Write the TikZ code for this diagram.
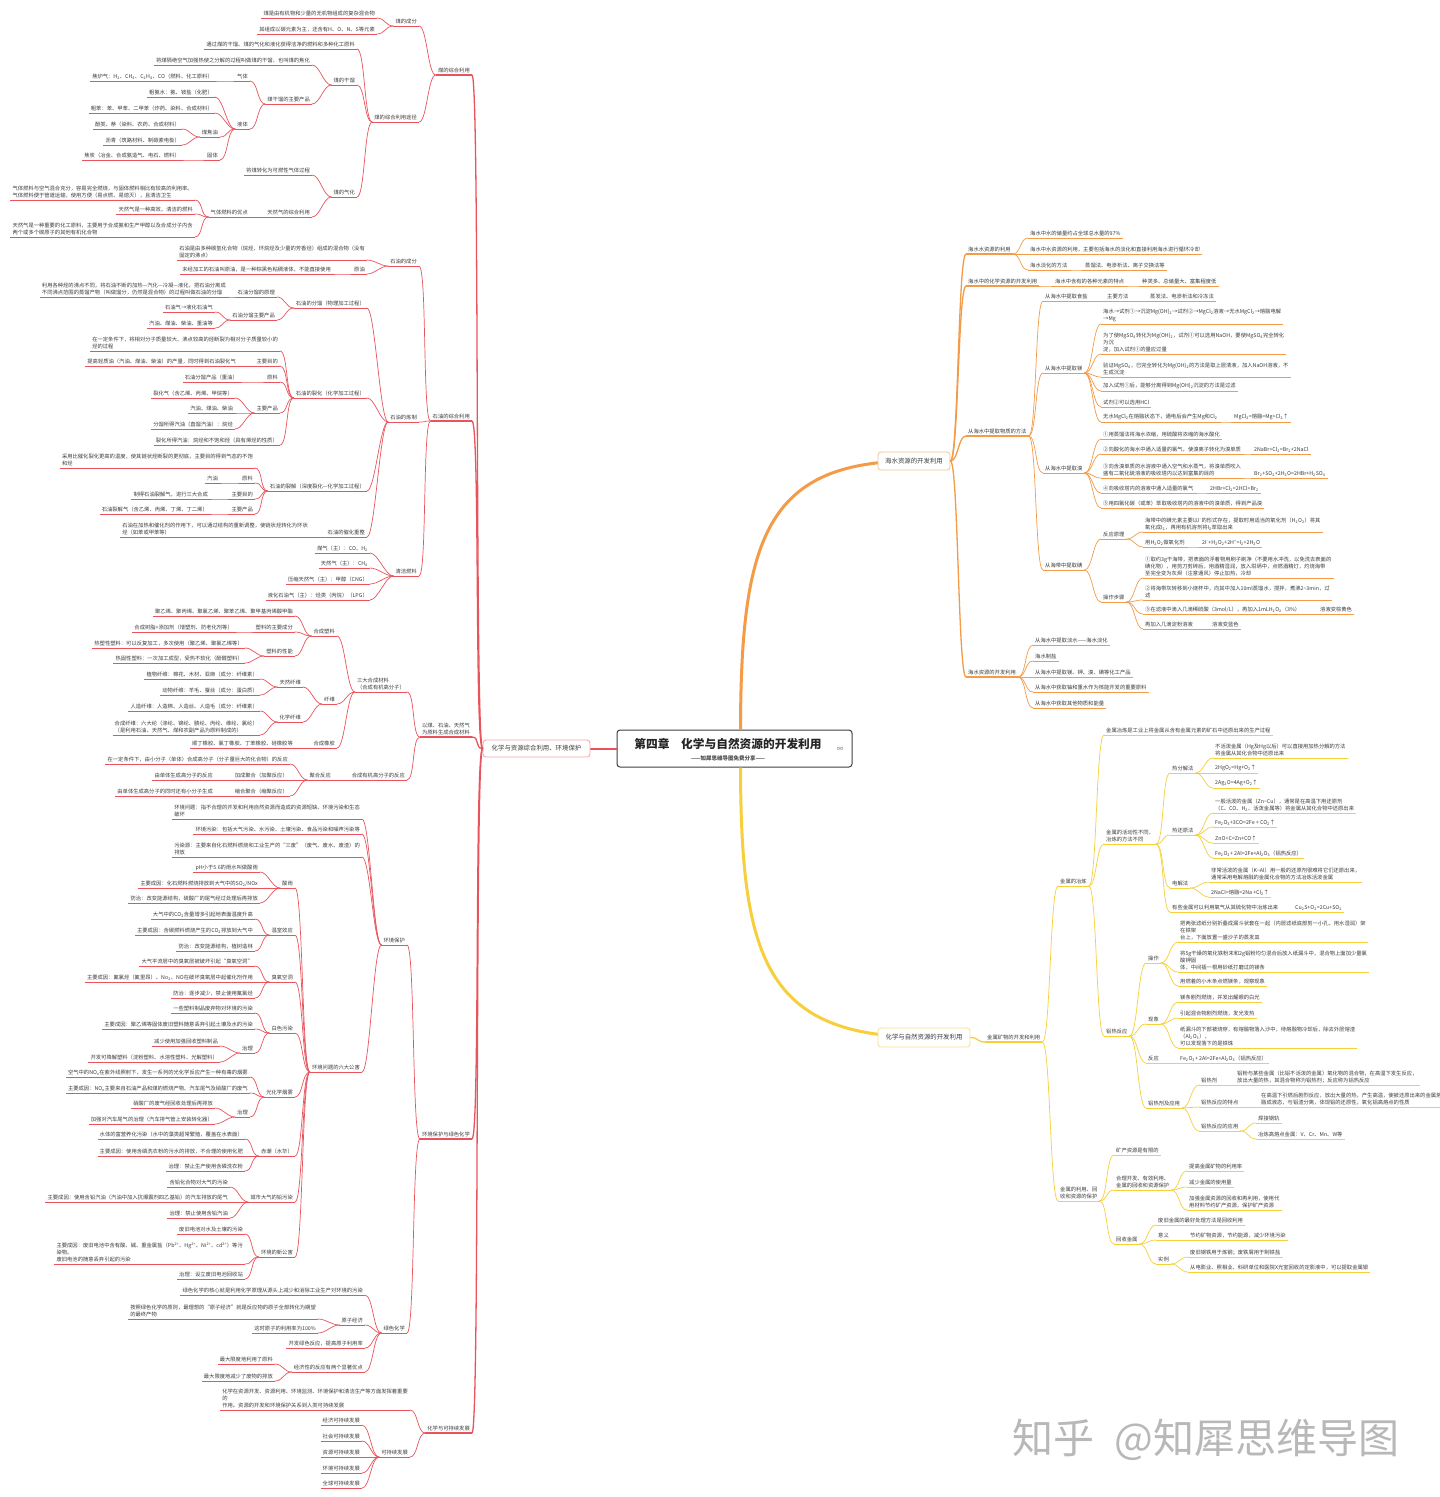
\documentclass[tikz,border=0pt]{standalone}
\usepackage{fontspec}
\setmainfont{Noto Sans CJK SC}
\definecolor{cr}{HTML}{E9545C}
\definecolor{crl}{HTML}{F2A3A8}
\definecolor{co}{HTML}{F39B47}
\definecolor{col}{HTML}{F6C391}
\definecolor{cy}{HTML}{F6CF3A}
\definecolor{cyl}{HTML}{F7E08F}
\definecolor{tx}{HTML}{3C3C3C}
\newcommand{\xb}[1]{\textsubscript{#1}}
\newcommand{\xp}[1]{\textsuperscript{#1}}
\begin{document}
\begin{tikzpicture}[x=1pt, y=-1pt,
    leaf/.style={font=\fontsize{5.3}{7}\selectfont, text=tx, inner xsep=2pt, inner ysep=1.5pt, align=left},
    under/.style={append after command={(\tikzlastnode.south west) edge[#1] (\tikzlastnode.south east)}},
    lr/.style={leaf, anchor=south east, under={draw=cr, line width=.7pt}},
    lr2/.style={leaf, anchor=south east, under={draw=cr, line width=1.3pt}},
    lo/.style={leaf, anchor=south west, under={draw=co, line width=.7pt}},
    lo2/.style={leaf, anchor=south west, under={draw=co, line width=1.3pt}},
    ly/.style={leaf, anchor=south west, under={draw=cy, line width=.7pt}},
    ly2/.style={leaf, anchor=south west, under={draw=cy, line width=1.3pt}},
    lk/.style={to path={.. controls +(-8,0) and +(8,0) .. (\tikztotarget)}},
    rk/.style={to path={.. controls +(8,0) and +(-8,0) .. (\tikztotarget)}},
    topic/.style={draw=#1, rounded corners=3pt, line width=.8pt, fill=white, text=tx, font=\fontsize{6.4}{7}\selectfont, inner sep=0pt}
]
\fill[white] (0,0) rectangle (1440,1497);
\useasboundingbox (0,0) rectangle (1440,1497);

% Root and main branches
\node[draw=black!75, line width=1pt, rounded corners=3pt, fill=white, minimum width=235pt, minimum height=37pt] (T) at (734.5,748.5) {};
\draw[co, line width=3pt] ([xshift=6pt]T.north) .. controls (741,540) and (765,461) .. (914,461);
\draw[cy, line width=3pt] ([xshift=6pt]T.south) .. controls (741,957) and (765,1037) .. (924,1037);
\draw[cr, line width=2pt] (T.west) -- (590,748.5);
\node[font=\fontsize{11.7}{12}\selectfont\bfseries, text=black!85, inner sep=0pt] (ttl) at (728,744) {第四章　化学与自然资源的开发利用};
\node[font=\fontsize{5.5}{6}\selectfont\bfseries, text=black!70, inner sep=0pt] (sub) at (728,758) {——知犀思维导图免费分享——};
\node[font=\fontsize{7}{7}\selectfont, text=black!55, inner sep=0pt] (lnk) at (840,749) {∞};
\node[topic=crl, minimum width=107pt, minimum height=17pt] (L) at (536.5,748.5) {化学与资源综合利用、环境保护};
\node[topic=col, minimum width=72pt, minimum height=18pt] (O) at (914,461) {海水资源的开发利用};
\node[topic=cyl, minimum width=92pt, minimum height=19pt] (Yb) at (924,1037.5) {化学与自然资源的开发利用};

% Left: coal
\node[lr2] (a) at (472,75) {煤的综合利用};
\node[lr] (a1) at (419,26) {煤的成分};
\node[lr] (a1a) at (377,18) {煤是由有机物和少量的无机物组成的复杂混合物};
\node[lr] (a1b) at (377,34) {其组成以碳元素为主，还含有H、O、N、S等元素};
\node[lr] (a2) at (419,122) {煤的综合利用途径};
\node[lr] (a2a) at (357,49) {通过煤的干馏、煤的气化和液化获得洁净的燃料和多种化工原料};
\node[lr] (a2b) at (357,85) {煤的干馏};
\node[lr] (a2b1) at (312,65) {将煤隔绝空气加强热使之分解的过程叫做煤的干馏，也叫煤的焦化};
\node[lr] (a2b2) at (312,104) {煤干馏的主要产品};
\node[lr] (g1) at (250,81) {气体};
\node[lr] (g1a) at (215,81) {焦炉气：H\xb{2}、CH\xb{4}、C\xb{2}H\xb{4}、CO（燃料、化工原料）};
\node[lr] (g2) at (250,129) {液体};
\node[lr] (g2a) at (215,97) {粗氨水：氨、铵盐（化肥）};
\node[lr] (g2b) at (215,113) {粗苯：苯、甲苯、二甲苯（炸药、染料、合成材料）};
\node[lr] (g2c) at (220,137) {煤焦油};
\node[lr] (g2c1) at (182,129) {酚类、萘（染料、农药、合成材料）};
\node[lr] (g2c2) at (182,145) {沥青（筑路材料、制碳素电极）};
\node[lr] (g3) at (220,160) {固体};
\node[lr] (g3a) at (182,160) {焦炭（冶金、合成氨造气、电石、燃料）};
\node[lr] (a2c) at (357,197) {煤的气化};
\node[lr] (a2c1) at (312,175) {将煤转化为可燃性气体过程};
\node[lr] (a2c2) at (312,217) {天然气的综合利用};
\node[lr] (a2c3) at (250,217) {气体燃料的优点};
\node[lr] (h1) at (195,200) {气体燃料与空气混合充分，容易完全燃烧，与固体燃料相比有较高的利用率。\\气体燃料便于管道运输，使用方便（易点燃、易熄灭），且清洁卫生};
\node[lr] (h2) at (195,214) {天然气是一种高效、清洁的燃料};
\node[lr] (h3) at (195,237) {天然气是一种重要的化工原料，主要用于合成氨和生产甲醇以及合成分子内含\\两个或多个碳原子的其他有机化合物};

% Left: petroleum
\node[lr2] (b) at (472,421) {石油的综合利用};
\node[lr] (b1) at (419,266) {石油的成分};
\node[lr] (b1a) at (367,260) {石油是由多种碳氢化合物（烷烃、环烷烃及少量的芳香烃）组成的混合物（没有\\固定的沸点）};
\node[lr] (b1b) at (367,274) {原油};
\node[lr] (b1c) at (333,274) {未经加工的石油叫原油，是一种棕黑色粘稠液体，不能直接使用};
\node[lr] (b2) at (419,422) {石油的炼制};
\node[lr] (b2a) at (367,308) {石油的分馏（物理加工过程）};
\node[lr] (b2a1) at (277,297) {石油分馏的原理};
\node[lr] (b2a1a) at (228,297) {利用各种烃的沸点不同，将石油不断的加热—汽化—冷凝—液化，把石油分离成\\不同沸点范围的蒸馏产物（叫做馏分，仍然是混合物）的过程叫做石油的分馏};
\node[lr] (b2a2) at (277,320) {石油分馏主要产品};
\node[lr] (b2a2a) at (215,312) {石油气→液化石油气};
\node[lr] (b2a2b) at (215,328) {汽油、煤油、柴油、重油等};
\node[lr] (b2b) at (367,398) {石油的裂化（化学加工过程）};
\node[lr] (p1) at (280,351) {在一定条件下，将相对分子质量较大、沸点较高的烃断裂为相对分子质量较小的\\烃的过程};
\node[lr] (p2) at (280,366) {主要目的};
\node[lr] (p2a) at (238,366) {提高轻质油（汽油、煤油、柴油）的产量，同时得到石油裂化气};
\node[lr] (p3) at (280,382) {原料};
\node[lr] (p3a) at (240,382) {石油分馏产品（重油）};
\node[lr] (p4) at (280,413) {主要产品};
\node[lr] (p4a) at (235,398) {裂化气（含乙烯、丙烯、甲烷等）};
\node[lr] (p4b) at (235,413) {汽油、煤油、柴油};
\node[lr] (p4c) at (235,429) {分馏所得汽油（直馏汽油）：烷烃};
\node[lr] (p5) at (280,445) {裂化所得汽油：烷烃和不饱和烃（具有烯烃的性质）};
\node[lr] (b2c) at (367,491) {石油的裂解（深度裂化—化学加工过程）};
\node[lr] (q1) at (255,468) {采用比催化裂化更高的温度，使其链状烃断裂的更彻底，主要目的得到气态的不饱\\和烃};
\node[lr] (q2) at (255,483) {原料};
\node[lr] (q2a) at (220,483) {汽油};
\node[lr] (q3) at (255,499) {主要目的};
\node[lr] (q3a) at (210,499) {制得石油裂解气，进行三大合成};
\node[lr] (q4) at (255,514) {主要产品};
\node[lr] (q4a) at (210,514) {石油裂解气（含乙烯、丙烯、丁烯、丁二烯）};
\node[lr] (b2d) at (367,537) {石油的催化重整};
\node[lr] (b2d1) at (310,537) {石油在加热和催化剂的作用下，可以通过结构的重新调整，使链状烃转化为环状\\烃（如苯或甲苯等）};
\node[lr] (b3) at (419,576) {清洁燃料};
\node[lr] (b3a) at (370,553) {煤气（主）：CO、H\xb{2}};
\node[lr] (b3b) at (370,568) {天然气（主）：CH\xb{4}};
\node[lr] (b3c) at (370,584) {压缩天然气（主）：甲醇（CNG）};
\node[lr] (b3d) at (370,600) {液化石油气（主）：烃类（丙烷）（LPG）};

% Left: materials
\node[lr2] (c) at (472,737) {以煤、石油、天然气\\为原料生成合成材料};
\node[lr] (c1) at (407,692) {三大合成材料\\（合成有机高分子）};
\node[lr] (c1a) at (337,636) {合成塑料};
\node[lr] (c1a1) at (295,616) {聚乙烯、聚丙烯、聚氯乙烯、聚苯乙烯、聚甲基丙烯酸甲酯};
\node[lr] (c1a2) at (295,632) {塑料的主要成分};
\node[lr] (c1a2a) at (235,632) {合成树脂+添加剂（增塑剂、防老化剂等）};
\node[lr] (c1a3) at (295,656) {塑料的性能};
\node[lr] (c1a3a) at (245,648) {热塑性塑料：可以反复加工，多次使用（聚乙烯、聚氯乙烯等）};
\node[lr] (c1a3b) at (245,663) {热固性塑料：一次加工成型，受热不软化（酚醛塑料）};
\node[lr] (c1b) at (337,704) {纤维};
\node[lr] (c1b1) at (303,687) {天然纤维};
\node[lr] (c1b1a) at (260,679) {植物纤维：棉花、木材、亚麻（成分：纤维素）};
\node[lr] (c1b1b) at (260,695) {动物纤维：羊毛、蚕丝（成分：蛋白质）};
\node[lr] (c1b2) at (303,722) {化学纤维};
\node[lr] (c1b2a) at (260,711) {人造纤维：人造棉、人造丝、人造毛（成分：纤维素）};
\node[lr] (c1b2b) at (260,735) {合成纤维：六大纶（涤纶、锦纶、腈纶、丙纶、维纶、氯纶）\\（是利用石油、天然气、煤和农副产品为原料制成的）};
\node[lr] (c1c) at (337,748) {合成橡胶};
\node[lr] (c1c1) at (295,748) {顺丁橡胶、氯丁橡胶、丁苯橡胶、硅橡胶等};
\node[lr] (c2) at (407,780) {合成有机高分子的反应};
\node[lr] (c2a) at (333,780) {聚合反应};
\node[lr] (c2a1) at (290,764) {在一定条件下，由小分子（单体）合成高分子（分子量巨大的化合物）的反应};
\node[lr] (c2a2) at (290,780) {加成聚合（加聚反应）};
\node[lr] (c2a2a) at (215,780) {由单体生成高分子的反应};
\node[lr] (c2a3) at (290,796) {缩合聚合（缩聚反应）};
\node[lr] (c2a3a) at (215,796) {由单体生成高分子的同时还有小分子生成};

% Left: environment
\node[lr2] (d) at (472,1139) {环境保护与绿色化学};
\node[lr] (d1) at (407,945) {环境保护};
\node[lr] (d1a) at (362,819) {环境问题：指不合理的开发和利用自然资源而造成的资源短缺、环境污染和生态\\破坏};
\node[lr] (d1b) at (362,834) {环境污染：包括大气污染、水污染、土壤污染、食品污染和噪声污染等};
\node[lr] (d1c) at (362,857) {污染源：主要来自化石燃料燃烧和工业生产的“三废”（废气、废水、废渣）的\\排放};
\node[lr] (d1d) at (362,1072) {环境问题的六大公害};
\node[lr] (s1) at (295,888) {酸雨};
\node[lr] (s1a) at (260,872) {pH小于5.6的雨水叫做酸雨};
\node[lr] (s1b) at (260,888) {主要成因：化石燃料燃烧排放到大气中的SO\xb{2}/NOx};
\node[lr] (s1c) at (260,903) {防治：改变能源结构，硫酸厂的尾气经过处理后再排放};
\node[lr] (s2) at (295,935) {温室效应};
\node[lr] (s2a) at (255,919) {大气中的CO\xb{2}含量增多引起地表面温度升高};
\node[lr] (s2b) at (255,935) {主要成因：含碳燃料燃烧产生的CO\xb{2}排放到大气中};
\node[lr] (s2c) at (255,951) {防治：改变能源结构，植树造林};
\node[lr] (s3) at (295,982) {臭氧空洞};
\node[lr] (s3a) at (255,966) {大气平流层中的臭氧层被破坏引起“臭氧空洞”};
\node[lr] (s3b) at (255,982) {主要成因：氟氯烃（氟里昂）、No\xb{2}、NO在破坏臭氧层中起催化剂作用};
\node[lr] (s3c) at (255,998) {防治：逐步减少，禁止使用氟氯烃};
\node[lr] (s4) at (295,1033) {白色污染};
\node[lr] (s4a) at (255,1013) {一些塑料制品废弃物对环境的污染};
\node[lr] (s4b) at (255,1029) {主要成因：聚乙烯等固体废旧塑料随意丢弃引起土壤及水的污染};
\node[lr] (s4c) at (255,1053) {治理};
\node[lr] (s4c1) at (220,1046) {减少使用加强回收塑料制品};
\node[lr] (s4c2) at (220,1062) {开发可降解塑料（淀粉塑料、水溶性塑料、光解塑料）};
\node[lr] (s5) at (295,1097) {光化学烟雾};
\node[lr] (s5a) at (250,1077) {空气中的NO\xb{x}在紫外线照射下，发生一系列的光化学反应产生一种有毒的烟雾};
\node[lr] (s5b) at (250,1093) {主要成因：NO\xb{x}主要来自石油产品和煤的燃烧产物、汽车尾气及硝酸厂的废气};
\node[lr] (s5c) at (250,1117) {治理};
\node[lr] (s5c1) at (215,1108) {硝酸厂的废气经回收处理后再排放};
\node[lr] (s5c2) at (215,1124) {加强对汽车尾气的治理（汽车排气管上安装转化器）};
\node[lr] (s6) at (295,1156) {赤潮（水华）};
\node[lr] (s6a) at (245,1139) {水体的富营养化污染（水中的藻类超常繁殖，覆盖在水表面）};
\node[lr] (s6b) at (245,1156) {主要成因：使用含磷洗衣粉的污水的排放，不合理的使用化肥};
\node[lr] (s6c) at (245,1171) {治理：禁止生产使用含磷洗衣粉};
\node[lr] (s7) at (295,1202) {城市大气的铅污染};
\node[lr] (s7a) at (230,1187) {含铅化合物对大气的污染};
\node[lr] (s7b) at (230,1202) {主要成因：使用含铅汽油（汽油中加入抗爆震剂四乙基铅）的汽车排放的尾气};
\node[lr] (s7c) at (230,1218) {治理：禁止使用含铅汽油};
\node[lr] (s8) at (295,1257) {环境的新公害};
\node[lr] (s8a) at (245,1234) {废旧电池对水及土壤的污染};
\node[lr] (s8b) at (245,1264) {主要成因：废旧电池中含有酸、碱、重金属盐（Pb\xp{2+}、Hg\xp{2+}、Ni\xp{2+}、cd\xp{2+}）等污\\染物。\\废旧电池的随意丢弃引起的污染};
\node[lr] (s8c) at (245,1279) {治理：设立废旧电池回收站};
\node[lr] (d2) at (407,1333) {绿色化学};
\node[lr] (d2a) at (365,1295) {绿色化学的核心就是利用化学原理从源头上减少和消除工业生产对环境的污染};
\node[lr] (d2b) at (365,1325) {原子经济};
\node[lr] (d2b1) at (318,1319) {按照绿色化学的原则，最理想的“原子经济”就是反应物的原子全部转化为期望\\的最终产物};
\node[lr] (d2b2) at (318,1333) {这时原子的利用率为100\%};
\node[lr] (d2c) at (365,1348) {开发绿色反应，提高原子利用率};
\node[lr] (d2d) at (365,1372) {经济性的反应有两个显著优点};
\node[lr] (d2d1) at (275,1364) {最大限度地利用了原料};
\node[lr] (d2d2) at (275,1381) {最大限度地减少了废物的排放};

% Left: sustainable development
\node[lr2] (e) at (472,1433) {化学与可持续发展};
\node[lr] (e1) at (410,1410) {化学在资源开发、资源利用、环境监测、环境保护和清洁生产等方面发挥着重要\\的\\作用。资源的开发和环境保护关系到人类可持续发展};
\node[lr] (e2) at (410,1457) {可持续发展};
\node[lr] (e2a) at (362,1425) {经济可持续发展};
\node[lr] (e2b) at (362,1441) {社会可持续发展};
\node[lr] (e2c) at (362,1457) {资源可持续发展};
\node[lr] (e2d) at (362,1473) {环境可持续发展};
\node[lr] (e2e) at (362,1488) {全球可持续发展};

% Right: sea water
\node[lo2] (r1) at (966,254) {海水水资源的利用};
\node[lo] (r1a) at (1028,238) {海水中水的储量约占全球总水量的97\%};
\node[lo] (r1b) at (1028,254) {海水中水资源的利用，主要包括海水的淡化和直接利用海水进行循环冷却};
\node[lo] (r1c) at (1028,270) {海水淡化的方法};
\node[lo] (r1c1) at (1083,270) {蒸馏法、电渗析法、离子交换法等};
\node[lo2] (r2) at (966,286) {海水中的化学资源的开发利用};
\node[lo] (r2a) at (1053,286) {海水中含有的各种元素的特点};
\node[lo] (r2a1) at (1140,286) {种类多、总储量大、富集程度低};
\node[lo2] (r3) at (966,436) {从海水中提取物质的方法};
\node[lo] (r3a) at (1043,301) {从海水中提取食盐};
\node[lo] (r3a1) at (1105,301) {主要方法};
\node[lo] (r3a2) at (1148,301) {蒸发法、电渗析法和冷冻法};
\node[lo] (r3b) at (1043,373) {从海水中提取镁};
\node[lo] (m1) at (1101,324) {海水→试剂①→沉淀Mg(OH)\xb{2}→试剂②→MgCl\xb{2}溶液→无水MgCl\xb{2}→熔融电解\\→Mg};
\node[lo] (m2) at (1101,354) {为了使MgSO\xb{4}转化为Mg(OH)\xb{2}，试剂①可以选用NaOH，要使MgSO\xb{4}完全转化\\为沉\\淀，加入试剂①的量应过量};
\node[lo] (m3) at (1101,377) {验证MgSO\xb{4}，已完全转化为Mg(OH)\xb{2}的方法是取上层清液，加入NaOH溶液，不\\生成沉淀};
\node[lo] (m4) at (1101,391) {加入试剂①后，能够分离得到Mg(OH)\xb{2}沉淀的方法是过滤};
\node[lo] (m5) at (1101,407) {试剂②可以选用HCl};
\node[lo] (m6) at (1101,422) {无水MgCl\xb{2}在熔融状态下，通电后会产生Mg和Cl\xb{2}};
\node[lo] (m6a) at (1232,422) {MgCl\xb{2}=熔融=Mg+Cl\xb{2}↑};
\node[lo] (r3c) at (1043,473) {从海水中提取溴};
\node[lo] (x1) at (1101,439) {①用蒸馏法将海水浓缩，用硫酸将浓缩的海水酸化};
\node[lo] (x2) at (1101,454) {②向酸化的海水中通入适量的氯气，使溴离子转化为溴单质};
\node[lo] (x2a) at (1252,454) {2NaBr+Cl\xb{2}=Br\xb{2}+2NaCl};
\node[lo] (x3) at (1101,478) {③向含溴单质的水溶液中通入空气和水蒸气，将溴单质吹入\\盛有二氧化硫溶液的吸收塔内以达到富集的目的};
\node[lo] (x3a) at (1252,478) {Br\xb{2}+SO\xb{2}+2H\xb{2}O=2HBr+H\xb{2}SO\xb{4}};
\node[lo] (x4) at (1101,493) {④向吸收塔内的溶液中通入适量的氯气};
\node[lo] (x4a) at (1208,493) {2HBr+Cl\xb{2}=2HCl+Br\xb{2}};
\node[lo] (x5) at (1101,508) {⑤用四氯化碳（或苯）萃取吸收塔内的溶液中的溴单质，得到产品溴};
\node[lo] (r3d) at (1043,570) {从海带中提取碘};
\node[lo] (i1) at (1101,539) {反应原理};
\node[lo] (i1a) at (1143,532) {海带中的碘元素主要以I\xp{-}的形式存在，提取时用适当的氧化剂（H\xb{2}O\xb{2}）将其\\氧化成I\xb{2}，再用有机溶剂将I\xb{2}萃取出来};
\node[lo] (i1b) at (1143,547) {用H\xb{2}O\xb{2}做氧化剂};
\node[lo] (i1c) at (1200,547) {2I\xp{-}+H\xb{2}O\xb{2}+2H\xp{+}=I\xb{2}+2H\xb{2}O};
\node[lo] (i2) at (1101,602) {操作步骤};
\node[lo] (i2a) at (1143,578) {①取约3g干海带，把表面的浮着物用刷子刷净（不要用水冲洗，以免洗去表面的\\碘化物），用剪刀剪碎后，用酒精湿润，放入坩埚中，点燃酒精灯，灼烧海带\\至完全变为灰烬（注意通风）停止加热，冷却};
\node[lo] (i2b) at (1143,600) {②将海带灰转移到小烧杯中，向其中加入10ml蒸馏水，搅拌，煮沸2\textasciitilde3min，过\\滤};
\node[lo] (i2c) at (1143,614) {③在滤液中滴入几滴稀硫酸（3mol/L），再加入1mLH\xb{2}O\xb{2}（3\%）};
\node[lo] (i2c1) at (1318,614) {溶液变棕黄色};
\node[lo] (i2d) at (1143,629) {再加入几滴淀粉溶液};
\node[lo] (i2d1) at (1210,629) {溶液变蓝色};
\node[lo2] (r4) at (966,677) {海水资源的开发利用};
\node[lo] (r4a) at (1033,645) {从海水中提取淡水——海水淡化};
\node[lo] (r4b) at (1033,661) {海水制盐};
\node[lo] (r4c) at (1033,677) {从海水中提取镁、钾、溴、碘等化工产品};
\node[lo] (r4d) at (1033,692) {从海水中获取铀和重水作为核能开发的重要原料};
\node[lo] (r4e) at (1033,708) {从海水中获取其他物质和能量};

% Right: metals
\node[ly2] (y0) at (985,1042) {金属矿物的开发和利用};
\node[ly] (y1) at (1058,886) {金属的冶炼};
\node[ly] (y1a) at (1104,735) {金属冶炼是工业上将金属从含有金属元素的矿石中还原出来的生产过程};
\node[ly] (y1b) at (1104,844) {金属的活动性不同，\\冶炼的方法不同};
\node[ly] (t1) at (1170,773) {热分解法};
\node[ly] (t1a) at (1213,758) {不活泼金属（Hg及Hg以后）可以直接用加热分解的方法\\将金属从其化合物中还原出来};
\node[ly] (t1b) at (1213,773) {2HgO\xb{2}=Hg+O\xb{2}↑};
\node[ly] (t1c) at (1213,788) {2Ag\xb{2}O=4Ag+O\xb{2}↑};
\node[ly] (t2) at (1170,835) {热还原法};
\node[ly] (t2a) at (1213,813) {一般活泼的金属（Zn\textasciitilde Cu），通常是在高温下用还原剂\\（C、CO、H\xb{2}、活泼金属等）将金属从其化合物中还原出来};
\node[ly] (t2b) at (1213,827) {Fe\xb{2}O\xb{3}+3CO=2Fe + CO\xb{2}↑};
\node[ly] (t2c) at (1213,843) {ZnO+C=Zn+CO↑};
\node[ly] (t2d) at (1213,858) {Fe\xb{2}O\xb{3}+ 2Al=2Fe+Al\xb{2}O\xb{3}（铝热反应）};
\node[ly] (t3) at (1170,888) {电解法};
\node[ly] (t3a) at (1209,882) {非常活泼的金属（K\textasciitilde Al）用一般的还原剂很难将它们还原出来，\\通常采用电解熔融的金属化合物的方法冶炼活泼金属};
\node[ly] (t3b) at (1209,897) {2NaCl=熔融=2Na +Cl\xb{2}↑};
\node[ly] (t4) at (1170,912) {有些金属可以利用氧气从其硫化物中冶炼出来};
\node[ly] (t4a) at (1293,912) {Cu\xb{2}S+O\xb{2}=2Cu+SO\xb{2}};
\node[ly] (y1c) at (1104,1036) {铝热反应};
\node[ly] (k1) at (1146,963) {操作};
\node[ly] (k1a) at (1178,942) {把两张滤纸分别折叠成漏斗状套在一起（内层滤纸底部剪一小孔，用水湿润）架\\在铁架\\台上，下面放置一盛沙子的蒸发皿};
\node[ly] (k1b) at (1178,972) {将5g干燥的氧化铁粉末和2g铝粉均匀混合后放入纸漏斗中，混合物上面加少量氯\\酸钾固\\体，中间插一根用砂纸打磨过的镁条};
\node[ly] (k1c) at (1178,986) {用燃着的小木条点燃镁条，观察现象};
\node[ly] (k2) at (1146,1024) {现象};
\node[ly] (k2a) at (1178,1002) {镁条剧烈燃烧，并发出耀眼的白光};
\node[ly] (k2b) at (1178,1018) {引起混合物剧烈燃烧，发光发热};
\node[ly] (k2c) at (1178,1048) {纸漏斗的下部被烧穿，有熔融物落入沙中，待熔融物冷却后，除去外层熔渣\\（Al\xb{2}O\xb{3}），\\可以发现落下的是铁珠};
\node[ly] (k3) at (1146,1063) {反应};
\node[ly] (k3a) at (1178,1063) {Fe\xb{2}O\xb{3}+ 2Al=2Fe+Al\xb{2}O\xb{3}（铝热反应）};
\node[ly] (k4) at (1146,1108) {铝热剂及应用};
\node[ly] (k4a) at (1199,1085) {铝热剂};
\node[ly] (k4a1) at (1235,1085) {铝粉与某些金属（比铝不活泼的金属）氧化物的混合物，在高温下发生反应，\\放出大量的热，其混合物称为铝热剂；反应称为铝热反应};
\node[ly] (k4b) at (1199,1107) {铝热反应的特点};
\node[ly] (k4b1) at (1259,1107) {在高温下引燃后剧烈反应，放出大量的热，产生高温，使被还原出来的金属熔\\融成液态，与铝渣分离，体现铝的还原性，氧化铝高熔点的性质};
\node[ly] (k4c) at (1199,1131) {铝热反应的应用};
\node[ly] (k4c1) at (1256,1123) {焊接钢轨};
\node[ly] (k4c2) at (1256,1139) {冶炼高熔点金属：V、Cr、Mn、W等};
\node[ly] (y2) at (1058,1201) {金属的利用、回\\收和资源的保护};
\node[ly] (y2a) at (1114,1155) {矿产资源是有限的};
\node[ly] (y2b) at (1114,1190) {合理开发、有效利用、\\金属的回收和资源保护};
\node[ly] (y2b1) at (1187,1171) {提高金属矿物的利用率};
\node[ly] (y2b2) at (1187,1187) {减少金属的使用量};
\node[ly] (y2b3) at (1187,1210) {加强金属资源的回收和再利用，使用代\\用材料节约矿产资源，保护矿产资源};
\node[ly] (y2c) at (1114,1244) {回收金属};
\node[ly] (y2c1) at (1156,1225) {废旧金属的最好处理方法是回收利用};
\node[ly] (y2c2) at (1156,1240) {意义};
\node[ly] (y2c2a) at (1188,1240) {节约矿物资源，节约能源，减少环境污染};
\node[ly] (y2c3) at (1156,1264) {实例};
\node[ly] (y2c3a) at (1188,1257) {废旧钢铁用于炼钢；废铁屑用于制铁盐};
\node[ly] (y2c3b) at (1188,1272) {从电影业、照相业、科研单位和医院X光室回收的定影液中，可以提取金属银};

% Connectors
\foreach \cn in {a,b,c,d,e}
  \draw[cr, line width=1.3pt, line cap=round] (L.west) to[lk] (\cn.south east);
\foreach \cn in {r1,r2,r3,r4}
  \draw[co, line width=1.3pt, line cap=round] (O.east) to[rk] (\cn.south west);
\draw[cy, line width=1.3pt, line cap=round] (Yb.east) to[rk] (y0.south west);
\foreach \pn/\cn in {a/a1, a/a2, a1/a1a, a1/a1b, a2/a2a, a2/a2b, a2/a2c, a2b/a2b1, a2b/a2b2, a2b2/g1, a2b2/g2, g1/g1a, g2/g2a, g2/g2b, g2/g2c, g2/g3, g2c/g2c1, g2c/g2c2, g3/g3a, a2c/a2c1, a2c/a2c2, a2c2/a2c3, a2c3/h1, a2c3/h2, a2c3/h3,
    b/b1, b/b2, b/b3, b1/b1a, b1/b1b, b1b/b1c, b2/b2a, b2/b2b, b2/b2c, b2/b2d, b2a/b2a1, b2a/b2a2, b2a1/b2a1a, b2a2/b2a2a, b2a2/b2a2b, b2b/p1, b2b/p2, b2b/p3, b2b/p4, b2b/p5, p2/p2a, p3/p3a, p4/p4a, p4/p4b, p4/p4c, b2c/q1, b2c/q2, b2c/q3, b2c/q4, q2/q2a, q3/q3a, q4/q4a, b2d/b2d1, b3/b3a, b3/b3b, b3/b3c, b3/b3d,
    c/c1, c/c2, c1/c1a, c1/c1b, c1/c1c, c1a/c1a1, c1a/c1a2, c1a/c1a3, c1a2/c1a2a, c1a3/c1a3a, c1a3/c1a3b, c1b/c1b1, c1b/c1b2, c1b1/c1b1a, c1b1/c1b1b, c1b2/c1b2a, c1b2/c1b2b, c1c/c1c1, c2/c2a, c2a/c2a1, c2a/c2a2, c2a/c2a3, c2a2/c2a2a, c2a3/c2a3a,
    d/d1, d/d2, d1/d1a, d1/d1b, d1/d1c, d1/d1d, d1d/s1, d1d/s2, d1d/s3, d1d/s4, d1d/s5, d1d/s6, d1d/s7, d1d/s8, s1/s1a, s1/s1b, s1/s1c, s2/s2a, s2/s2b, s2/s2c, s3/s3a, s3/s3b, s3/s3c, s4/s4a, s4/s4b, s4/s4c, s4c/s4c1, s4c/s4c2, s5/s5a, s5/s5b, s5/s5c, s5c/s5c1, s5c/s5c2, s6/s6a, s6/s6b, s6/s6c, s7/s7a, s7/s7b, s7/s7c, s8/s8a, s8/s8b, s8/s8c, d2/d2a, d2/d2b, d2/d2c, d2/d2d, d2b/d2b1, d2b/d2b2, d2d/d2d1, d2d/d2d2,
    e/e1, e/e2, e2/e2a, e2/e2b, e2/e2c, e2/e2d, e2/e2e}
  \draw[cr, line width=.7pt, line cap=round] (\pn.south west) to[lk] (\cn.south east);
\foreach \pn/\cn in {r1/r1a, r1/r1b, r1/r1c, r1c/r1c1, r2/r2a, r2a/r2a1, r3/r3a, r3/r3b, r3/r3c, r3/r3d, r3a/r3a1, r3a1/r3a2, r3b/m1, r3b/m2, r3b/m3, r3b/m4, r3b/m5, r3b/m6, m6/m6a, r3c/x1, r3c/x2, r3c/x3, r3c/x4, r3c/x5, x2/x2a, x3/x3a, x4/x4a, r3d/i1, r3d/i2, i1/i1a, i1/i1b, i1b/i1c, i2/i2a, i2/i2b, i2/i2c, i2/i2d, i2c/i2c1, i2d/i2d1, r4/r4a, r4/r4b, r4/r4c, r4/r4d, r4/r4e}
  \draw[co, line width=.7pt, line cap=round] (\pn.south east) to[rk] (\cn.south west);
\foreach \pn/\cn in {y0/y1, y0/y2, y1/y1a, y1/y1b, y1/y1c, y1b/t1, y1b/t2, y1b/t3, y1b/t4, t1/t1a, t1/t1b, t1/t1c, t2/t2a, t2/t2b, t2/t2c, t2/t2d, t3/t3a, t3/t3b, t4/t4a, y1c/k1, y1c/k2, y1c/k3, y1c/k4, k1/k1a, k1/k1b, k1/k1c, k2/k2a, k2/k2b, k2/k2c, k3/k3a, k4/k4a, k4/k4b, k4/k4c, k4a/k4a1, k4b/k4b1, k4c/k4c1, k4c/k4c2, y2/y2a, y2/y2b, y2/y2c, y2b/y2b1, y2b/y2b2, y2b/y2b3, y2c/y2c1, y2c/y2c2, y2c/y2c3, y2c2/y2c2a, y2c3/y2c3a, y2c3/y2c3b}
  \draw[cy, line width=.7pt, line cap=round] (\pn.south east) to[rk] (\cn.south west);

% Watermark
\node[text=black!28, font=\fontsize{41}{41}\selectfont, anchor=west, inner sep=0pt] (wm) at (1012,1440) {知乎\hspace{0.5em}@知犀思维导图};
\end{tikzpicture}
\end{document}
